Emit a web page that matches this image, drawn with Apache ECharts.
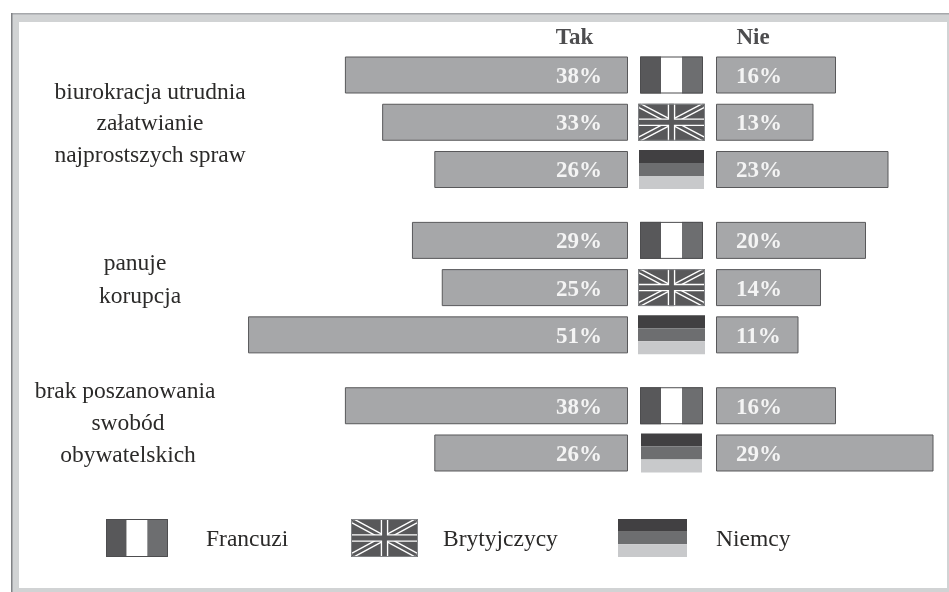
<!DOCTYPE html>
<html>
<head>
<meta charset="utf-8">
<style>
html, body { margin: 0; padding: 0; background: #fff; }
#chart { width: 949px; height: 592px; }
</style>
<script src="https://cdn.jsdelivr.net/npm/echarts@6/dist/echarts.min.js"></script>
</head>
<body>
<div id="chart"></div>
<script>
// values in percent, top to bottom
const takValues = [38, 33, 26, 29, 25, 51, 38, 26];
const nieValues = [16, 13, 23, 20, 14, 11, 16, 29];
const rowFlags = ['fr', 'uk', 'de', 'fr', 'uk', 'de', 'fr', 'de'];
// bands on the y axis, the blank ones make the gaps between groups
const rowSlots = [0, 2, 4, 7, 9, 11, 14, 16];
const slotCount = 17;

const headers = ['Tak', 'Nie'];
const legendNames = ['Francuzi', 'Brytyjczycy', 'Niemcy'];
const groupLabels = [
	['biurokracja utrudnia', 'załatwianie', 'najprostszych spraw'],
	['panuje', 'korupcja'],
	['brak poszanowania', 'swobód', 'obywatelskich'],
];

const serif = '"Liberation Serif", "Times New Roman", serif';
const flagW = [63, 67, 65, 63, 67, 67, 63, 61];
const flagH = { fr: 37, uk: 37, de: 39 };

function slotData(values) {
	let out = new Array(slotCount).fill(null);
	rowSlots.forEach((slot, i) => { out[slot] = values[i]; });
	return out;
}

function rectEl(x, y, w, h, fill, stroke) {
	return {
		type: 'rect',
		shape: { x: x, y: y, width: w, height: h },
		style: { fill: fill, stroke: stroke || null, lineWidth: stroke ? 1 : 0 },
	};
}

function lineEl(x1, y1, x2, y2, color, width) {
	return {
		type: 'line',
		shape: { x1: x1, y1: y1, x2: x2, y2: y2 },
		style: { stroke: color, lineWidth: width },
	};
}

// flag drawn in shades of grey, used by the rows and by the legend
function flagShapes(kind, x, y, w, h) {
	let parts = [];
	if (kind == 'fr') {
		let third = w / 3;
		parts.push(rectEl(x, y, third, h, '#58585a'));
		parts.push(rectEl(x + third, y, third, h, '#ffffff'));
		parts.push(rectEl(x + 2 * third, y, third, h, '#6d6e70'));
		parts.push(rectEl(x + 0.5, y + 0.5, w - 1, h - 1, 'transparent', '#4d4d4f'));
	} else if (kind == 'de') {
		let band = h / 3;
		parts.push(rectEl(x, y, w, band, '#414042'));
		parts.push(rectEl(x, y + band, w, band, '#6d6e70'));
		parts.push(rectEl(x, y + 2 * band, w, band, '#c8c9cb'));
	} else {
		let cx = x + w / 2;
		let cy = y + h / 2;
		parts.push(rectEl(x, y, w, h, '#58585a'));
		parts.push(lineEl(x + 2, y + 2, x + w - 2, y + h - 2, '#ffffff', 5.5));
		parts.push(lineEl(x + 2, y + h - 2, x + w - 2, y + 2, '#ffffff', 5.5));
		parts.push(lineEl(x + 2, y + 2, x + w - 2, y + h - 2, '#58585a', 2.8));
		parts.push(lineEl(x + 2, y + h - 2, x + w - 2, y + 2, '#58585a', 2.8));
		parts.push(lineEl(cx, y, cx, y + h, '#ffffff', 7.5));
		parts.push(lineEl(x, cy, x + w, cy, '#ffffff', 7.5));
		parts.push(lineEl(cx, y, cx, y + h, '#58585a', 4.8));
		parts.push(lineEl(x, cy, x + w, cy, '#58585a', 4.8));
		parts.push(rectEl(x + 0.5, y + 0.5, w - 1, h - 1, 'transparent', '#808285'));
	}
	return parts;
}

function barSeries(name, values, axisIndex, labelPos, labelDist) {
	return {
		name: name,
		type: 'bar',
		xAxisIndex: axisIndex,
		yAxisIndex: axisIndex,
		data: slotData(values),
		barWidth: 37,
		clip: false,
		itemStyle: { color: '#a6a7a9', borderColor: '#58585a', borderWidth: 1 },
		label: {
			show: true,
			position: labelPos,
			distance: labelDist,
			offset: [0, 2],
			formatter: '{c}%',
			color: '#f4f4f4',
			fontFamily: serif,
			fontWeight: 'bold',
			fontSize: 23,
		},
	};
}

function yAxisFor(index) {
	return {
		type: 'category',
		gridIndex: index,
		inverse: true,
		show: false,
		data: Array.from({ length: slotCount }, (v, i) => 'r' + i),
	};
}

const gridTop = 63.2;
const gridHeight = 401.6;

let graphics = [
	// frame of the page
	rectEl(11, 13, 938, 579, '#d1d3d4'),
	rectEl(11, 13, 938, 1.5, '#a6a8ab'),
	rectEl(11, 13, 1.5, 579, '#808285'),
	rectEl(19, 22, 928, 566, '#ffffff'),
];

[574.5, 753].forEach((x, i) => {
	graphics.push({
		type: 'text', x: x, y: 38,
		style: {
			text: headers[i], font: 'bold 23px ' + serif, fill: '#4d4d4f',
			textAlign: 'center', textVerticalAlign: 'middle',
		},
	});
});

const labelLayout = [
	{ x: [150, 150, 150], y: [93, 124, 156] },
	{ x: [135, 140], y: [264, 297] },
	{ x: [125, 128, 128], y: [392, 424, 456] },
];
groupLabels.forEach((lines, g) => {
	lines.forEach((line, i) => {
		graphics.push({
			type: 'text', x: labelLayout[g].x[i], y: labelLayout[g].y[i],
			style: {
				text: line, font: '23.5px ' + serif, fill: '#2b2a29',
				textAlign: 'center', textVerticalAlign: 'middle',
			},
		});
	});
});

// legend at the bottom
const legendFlags = [
	{ kind: 'fr', x: 106, w: 62, textX: 206 },
	{ kind: 'uk', x: 351, w: 67, textX: 443 },
	{ kind: 'de', x: 618, w: 69, textX: 716 },
];
legendFlags.forEach((item, i) => {
	graphics.push({ type: 'group', children: flagShapes(item.kind, item.x, 519, item.w, 38) });
	graphics.push({
		type: 'text', x: item.textX, y: 540,
		style: {
			text: legendNames[i], font: '23.5px ' + serif, fill: '#2b2a29',
			textVerticalAlign: 'middle',
		},
	});
});

let chart = echarts.init(document.getElementById('chart'));
chart.setOption({
	animation: false,
	backgroundColor: '#ffffff',
	grid: [
		{ left: 181, width: 447, top: gridTop, height: gridHeight },
		{ left: 716, width: 225, top: gridTop, height: gridHeight },
		{ left: 640, width: 63, top: gridTop, height: gridHeight },
	],
	xAxis: [
		{ type: 'value', gridIndex: 0, inverse: true, min: 0, max: 60, show: false },
		{ type: 'value', gridIndex: 1, min: 0, max: 30, show: false },
		{ type: 'value', gridIndex: 2, min: 0, max: 1, show: false },
	],
	yAxis: [yAxisFor(0), yAxisFor(1), yAxisFor(2)],
	graphic: { elements: graphics.map((g, i) => Object.assign({ z: i < 4 ? -10 : 10 }, g)) },
	series: [
		barSeries('Tak', takValues, 0, 'insideRight', 26),
		barSeries('Nie', nieValues, 1, 'insideLeft', 20),
		{
			type: 'custom',
			clip: false,
			xAxisIndex: 2,
			yAxisIndex: 2,
			data: rowSlots.map((slot, i) => [0.5, slot, i]),
			renderItem: function(params, api) {
				let pos = api.coord([api.value(0), api.value(1)]);
				let row = api.value(2);
				let kind = rowFlags[row];
				let w = flagW[row];
				let h = flagH[kind];
				return {
					type: 'group',
					children: flagShapes(kind, pos[0] - w / 2, pos[1] - h / 2, w, h),
				};
			},
		},
	],
});
</script>
</body>
</html>
